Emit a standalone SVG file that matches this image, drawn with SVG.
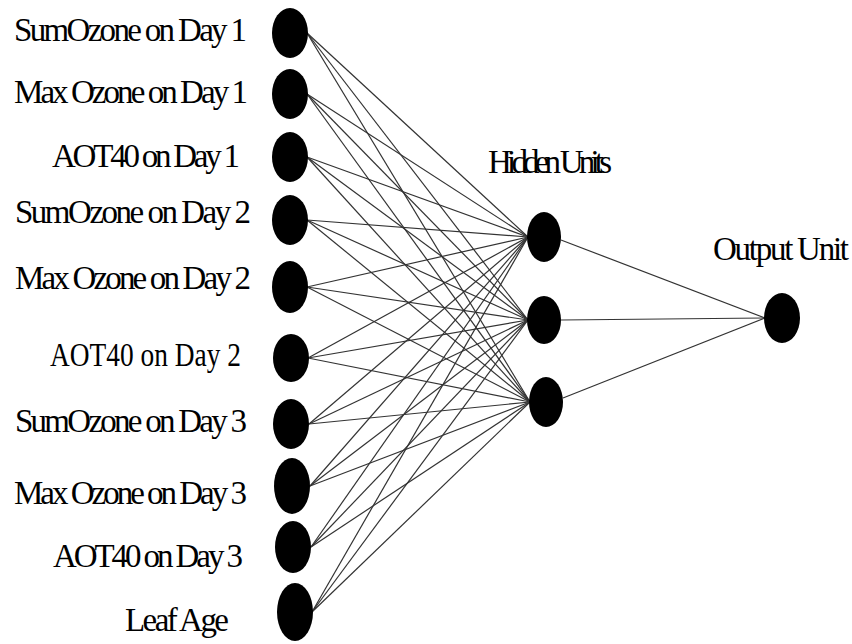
<svg xmlns="http://www.w3.org/2000/svg" width="852" height="644" viewBox="0 0 852 644">
<style>
.lbl{font-family:"Liberation Serif","Times New Roman",serif;font-size:33px;fill:#000}
.node{fill:#000}
.conn line{stroke:#333;stroke-width:1.2}
</style>
<rect width="852" height="644" fill="#fff"/>
<g class="conn">
<line x1="307" y1="33" x2="528" y2="237"/><line x1="307" y1="33" x2="528" y2="320"/><line x1="307" y1="33" x2="530" y2="402"/>
<line x1="307" y1="94" x2="528" y2="237"/><line x1="307" y1="94" x2="528" y2="320"/><line x1="307" y1="94" x2="530" y2="402"/>
<line x1="307" y1="157" x2="528" y2="237"/><line x1="307" y1="157" x2="528" y2="320"/><line x1="307" y1="157" x2="530" y2="402"/>
<line x1="307" y1="220" x2="528" y2="237"/><line x1="307" y1="220" x2="528" y2="320"/><line x1="307" y1="220" x2="530" y2="402"/>
<line x1="307" y1="287" x2="528" y2="237"/><line x1="307" y1="287" x2="528" y2="320"/><line x1="307" y1="287" x2="530" y2="402"/>
<line x1="308" y1="358" x2="528" y2="237"/><line x1="308" y1="358" x2="528" y2="320"/><line x1="308" y1="358" x2="530" y2="402"/>
<line x1="309" y1="424" x2="528" y2="237"/><line x1="309" y1="424" x2="528" y2="320"/><line x1="309" y1="424" x2="530" y2="402"/>
<line x1="310" y1="486" x2="528" y2="237"/><line x1="310" y1="486" x2="528" y2="320"/><line x1="310" y1="486" x2="530" y2="402"/>
<line x1="311" y1="547" x2="528" y2="237"/><line x1="311" y1="547" x2="528" y2="320"/><line x1="311" y1="547" x2="530" y2="402"/>
<line x1="312" y1="612" x2="528" y2="237"/><line x1="312" y1="612" x2="528" y2="320"/><line x1="312" y1="612" x2="530" y2="402"/>
<line x1="561" y1="240" x2="765" y2="318"/><line x1="561" y1="320" x2="765" y2="318"/><line x1="563" y1="398" x2="765" y2="318"/>
</g>
<g id="in1"><ellipse class="node" cx="290" cy="33" rx="18" ry="25"/><text class="lbl" x="14" y="41" textLength="233">SumOzone on Day 1</text></g>
<g id="in2"><ellipse class="node" cx="290" cy="94" rx="18" ry="25"/><text class="lbl" x="14" y="103" textLength="234">Max Ozone on Day 1</text></g>
<g id="in3"><ellipse class="node" cx="290" cy="157" rx="18" ry="25"/><text class="lbl" x="52" y="167" textLength="188">AOT40 on Day 1</text></g>
<g id="in4"><ellipse class="node" cx="290" cy="220" rx="18" ry="25"/><text class="lbl" x="15" y="223" textLength="236">SumOzone on Day 2</text></g>
<g id="in5"><ellipse class="node" cx="290" cy="287" rx="18" ry="26"/><text class="lbl" x="15" y="289" textLength="236">Max Ozone on Day 2</text></g>
<g id="in6"><ellipse class="node" cx="291" cy="358" rx="18" ry="24"/><text class="lbl" x="50" y="366" textLength="191" lengthAdjust="spacingAndGlyphs">AOT40 on Day 2</text></g>
<g id="in7"><ellipse class="node" cx="291" cy="424" rx="18" ry="25"/><text class="lbl" x="15" y="432" textLength="232">SumOzone on Day 3</text></g>
<g id="in8"><ellipse class="node" cx="292" cy="486" rx="18" ry="28"/><text class="lbl" x="14" y="504" textLength="233">Max Ozone on Day 3</text></g>
<g id="in9"><ellipse class="node" cx="293" cy="547" rx="18" ry="26"/><text class="lbl" x="53" y="567" textLength="190">AOT40 on Day 3</text></g>
<g id="in10"><ellipse class="node" cx="295" cy="612" rx="18" ry="29"/><text class="lbl" x="125" y="631" textLength="104">Leaf Age</text></g>
<g id="h1"><ellipse class="node" cx="544" cy="237" rx="17" ry="25"/></g>
<g id="h2"><ellipse class="node" cx="544" cy="320" rx="17" ry="24"/></g>
<g id="h3"><ellipse class="node" cx="546" cy="402" rx="17" ry="25"/></g>
<g id="hlabel"><text class="lbl" x="488" y="173" textLength="124">Hidden Units</text></g>
<g id="out"><ellipse class="node" cx="782" cy="318" rx="18" ry="25"/><text class="lbl" x="713" y="260" textLength="136">Output Unit</text></g>
</svg>
